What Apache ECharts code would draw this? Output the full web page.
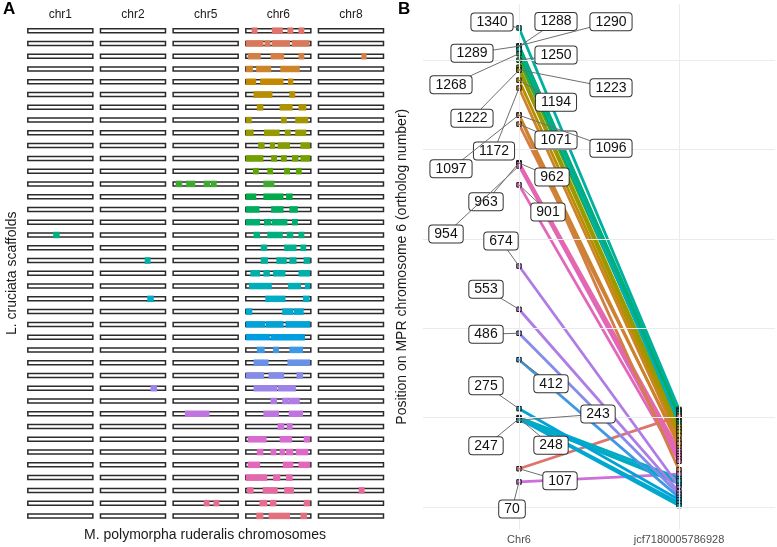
<!DOCTYPE html>
<html>
<head>
<meta charset="utf-8">
<script src="https://cdn.jsdelivr.net/npm/echarts@6/dist/echarts.min.js"></script>
<style>html,body{margin:0;padding:0;background:#fff}#c{width:777px;height:547px}</style>
</head>
<body>
<div id="c"></div>
<script>
// ---------- Panel A data ----------
const colNames = ['chr1', 'chr2', 'chr5', 'chr6', 'chr8'];
const rowIds = [1,2,3,4,5,6,7,8,9,10,11,12,13,14,15,16,17,18,19,20,21,22,23,24,25,26,27,28,29,30,31,32,33,34,35,36,37,38,39];
// [column index, scaffold row, start fraction, end fraction]
const blocks = [
  [3,1,0.09,0.18],[3,1,0.40,0.57],[3,1,0.64,0.73],[3,1,0.81,0.90],
  [3,2,0,0.27],[3,2,0.29,0.38],[3,2,0.40,0.68],[3,2,0.71,0.98],
  [3,3,0.03,0.23],[3,3,0.38,0.59],[3,3,0.81,0.90],[4,3,0.66,0.74],
  [3,4,0,0.11],[3,4,0.16,0.39],[3,4,0.53,0.83],
  [3,5,0,0.16],[3,5,0.22,0.58],[3,5,0.65,0.73],
  [3,6,0.12,0.41],[3,6,0.67,0.76],
  [3,7,0.17,0.27],[3,7,0.52,0.72],[3,7,0.81,0.93],
  [3,8,0,0.09],[3,8,0.54,0.63],[3,8,0.76,0.96],
  [3,9,0,0.12],[3,9,0.28,0.52],[3,9,0.60,0.69],[3,9,0.76,0.93],
  [3,10,0.19,0.29],[3,10,0.37,0.45],[3,10,0.49,0.68],[3,10,0.84,0.99],
  [3,11,0,0.27],[3,11,0.39,0.48],[3,11,0.54,0.63],[3,11,0.71,0.81],[3,11,0.84,0.99],
  [3,12,0.11,0.20],[3,12,0.33,0.42],[3,12,0.59,0.68],[3,12,0.77,0.86],
  [3,13,0.27,0.44],[2,13,0.04,0.14],[2,13,0.20,0.34],[2,13,0.47,0.57],[2,13,0.58,0.67],
  [3,14,0,0.16],[3,14,0.27,0.58],[3,14,0.62,0.72],
  [3,15,0,0.21],[3,15,0.39,0.58],[3,15,0.67,0.80],
  [3,16,0,0.22],[3,16,0.28,0.39],[3,16,0.40,0.64],[3,16,0.71,0.80],
  [3,17,0.12,0.22],[3,17,0.33,0.57],[3,17,0.63,0.73],[3,17,0.81,0.90],[0,17,0.39,0.49],
  [3,18,0.23,0.33],[3,18,0.59,0.78],[3,18,0.84,0.93],
  [3,19,0.23,0.34],[3,19,0.47,0.63],[3,19,0.67,0.78],[3,19,0.89,0.99],[1,19,0.68,0.77],
  [3,20,0.07,0.22],[3,20,0.27,0.37],[3,20,0.42,0.61],[3,20,0.81,0.99],
  [3,21,0.05,0.40],[3,21,0.65,0.85],[3,21,0.91,0.99],
  [3,22,0.30,0.61],[3,22,0.88,0.98],[1,22,0.72,0.82],
  [3,23,0,0.10],[3,23,0.56,0.73],[3,23,0.74,0.89],
  [3,24,0,0.30],[3,24,0.31,0.58],[3,24,0.61,0.99],
  [3,25,0,0.37],[3,25,0.38,0.91],
  [3,26,0.17,0.29],[3,26,0.42,0.51],[3,26,0.67,0.88],
  [3,27,0.12,0.35],[3,27,0.64,0.99],
  [3,28,0,0.28],[3,28,0.35,0.59],[3,28,0.78,0.88],
  [3,29,0.12,0.48],[3,29,0.49,0.77],[1,29,0.77,0.87],
  [3,30,0.38,0.48],[3,30,0.56,0.66],[3,30,0.66,0.83],
  [3,31,0.27,0.51],[3,31,0.66,0.88],[2,31,0.18,0.56],
  [3,32,0.49,0.59],[3,32,0.63,0.72],
  [3,33,0.03,0.32],[3,33,0.52,0.71],[3,33,0.89,0.99],
  [3,34,0.17,0.27],[3,34,0.38,0.47],[3,34,0.52,0.60],[3,34,0.62,0.73],[3,34,0.77,0.96],
  [3,35,0.03,0.22],[3,35,0.57,0.73],[3,35,0.81,0.99],
  [3,36,0,0.33],[3,36,0.42,0.53],[3,36,0.62,0.72],
  [3,37,0.02,0.12],[3,37,0.26,0.49],[3,37,0.59,0.74],[4,37,0.62,0.71],
  [3,38,0.21,0.33],[3,38,0.37,0.47],[3,38,0.89,0.99],[2,38,0.47,0.56],[2,38,0.62,0.71],
  [3,39,0.16,0.27],[3,39,0.35,0.68],[3,39,0.84,0.94]
];

// ---------- Panel B data ----------
const xCatsB = ['Chr6', 'jcf7180005786928'];
const chr6Pos = [1340,1290,1289,1288,1280,1268,1250,1230,1223,1222,1194,1172,1097,1096,1071,963,962,960,954,901,674,553,486,412,275,250,248,247,245,243,107,70];
const scafPos = [273,269,265,261,236,244,251,226,218,210,200,186,170,104,178,158,150,143,135,128,58,43,35,27,20,81,12,4,66,73,254,92];
const lineHueIdx = [19,17,16,15,21,14,13,9,8,7,6,4,4,3,3,36,37,35,34,35,30,30,28,26,24,22,23,23,22,22,1,32];
const labelledPos = [1340,1288,1290,1289,1250,1268,1223,1194,1222,1071,1096,1172,1097,962,963,901,954,674,553,486,412,275,243,247,248,107,70];
const yGridB = [0,250,500,750,1000,1250];
// label placement (pixel offset from its point)
const labelOffsets = [[-27,-6],[37,-25],[92,-24],[-47,7],[37,-5],[-68,31],[92,18],[37,22],[-47,48],[37,16],[92,33],[-25,63],[-68,54],[33,14],[-33,39],[29,27],[-73,68],[-18,-25],[-33,-20],[-33,1],[32,24],[-33,-23],[79,-6],[-33,27],[32,27],[41,12],[-7,27]];

// ---------- colours (ggplot-style hue palette, slightly muted) ----------
function hcl2hex(h, c, l) {
  const hr = h * Math.PI / 180;
  const U = c * Math.cos(hr), V = c * Math.sin(hr);
  const Xn = 95.047, Yn = 100.0, Zn = 108.883;
  const t = Xn + 15 * Yn + 3 * Zn;
  const un = 4 * Xn / t, vn = 9 * Yn / t;
  const Y = l > 8 ? Yn * Math.pow((l + 16) / 116, 3) : Yn * l / 903.3;
  const u = U / (13 * l) + un, v = V / (13 * l) + vn;
  const X = 9 * Y * u / (4 * v);
  const Z = -X / 3 - 5 * Y + 3 * Y / v;
  const lin = [
    (3.240479 * X - 1.537150 * Y - 0.498535 * Z) / 100,
    (-0.969256 * X + 1.875992 * Y + 0.041556 * Z) / 100,
    (0.055648 * X - 0.204043 * Y + 1.057311 * Z) / 100];
  const g = x => { x = x <= 0.0031308 ? 12.92 * x : 1.055 * Math.pow(x, 1 / 2.4) - 0.055; return Math.round(Math.max(0, Math.min(1, x)) * 255); };
  return '#' + lin.map(g).map(n => n.toString(16).padStart(2, '0')).join('');
}
const nHue = rowIds.length;
function paletteColor(k) { return hcl2hex(15 + 360 * (k - 1) / nHue, 80, 61); }

const FONT = "'Liberation Sans', Arial, Helvetica, sans-serif";

// ---------- build series data ----------
const outlineData = [];
rowIds.forEach(r => colNames.forEach((c, ci) => outlineData.push([ci, r])));

const lineData = chr6Pos.map((lv, i) => ({
  coords: [[1, lv], [2, scafPos[i]]],
  lineStyle: { color: paletteColor(lineHueIdx[i]) }
})).reverse();

const leftPts = chr6Pos.map((lv, i) => ({ value: [1, lv], itemStyle: { color: paletteColor(lineHueIdx[i]) } }));
const rightPts = scafPos.map((rv, i) => ({ value: [2, rv], itemStyle: { color: paletteColor(lineHueIdx[i]) } }));

const chart = echarts.init(document.getElementById('c'), null, { renderer: 'canvas' });
chart.setOption({
  animation: false,
  textStyle: { fontFamily: FONT },
  grid: [
    { left: 24, top: 24.3, width: 363.3, height: 498 },
    { left: 423, top: 4, width: 352, height: 525.5 }
  ],
  xAxis: [
    { gridIndex: 0, type: 'category', position: 'top', data: colNames,
      axisLine: { show: false }, axisTick: { show: false }, splitLine: { show: false },
      axisLabel: { fontSize: 12, color: '#1a1a1a', margin: 4, fontFamily: FONT } },
    { gridIndex: 1, type: 'value', min: 0.4, max: 2.6,
      axisLine: { show: false }, axisTick: { show: false }, splitLine: { show: false },
      axisLabel: { customValues: [1, 2], formatter: v => xCatsB[Math.round(v) - 1] || '', fontSize: 11, color: '#4d4d4d', margin: 5, fontFamily: FONT } }
  ],
  yAxis: [
    { gridIndex: 0, type: 'value', inverse: true, min: 0.5, max: 39.5,
      axisLine: { show: false }, axisTick: { show: false }, axisLabel: { show: false }, splitLine: { show: false },
      name: 'L. cruciata scaffolds', nameLocation: 'middle', nameGap: 5,
      nameTextStyle: { fontSize: 14, color: '#1a1a1a', fontFamily: FONT } },
    { gridIndex: 1, type: 'value', min: -63, max: 1407,
      axisLine: { show: false }, axisTick: { show: false }, axisLabel: { show: false }, splitLine: { show: false },
      name: 'Position on MPR chromosome 6 (ortholog number)', nameLocation: 'middle', nameGap: 14,
      nameTextStyle: { fontSize: 14, color: '#1a1a1a', fontFamily: FONT } }
  ],
  graphic: [
    { type: 'text', left: 3, top: 1, style: { text: 'A', font: 'bold 17px ' + FONT, fill: '#000' } },
    { type: 'text', left: 398, top: 1, style: { text: 'B', font: 'bold 17px ' + FONT, fill: '#000' } },
    { type: 'text', x: 205, y: 535, style: { text: 'M. polymorpha ruderalis chromosomes', font: '14px ' + FONT, fill: '#1a1a1a', align: 'center', verticalAlign: 'middle' } }
  ],
  series: [
    // Panel A outlines
    { type: 'custom', xAxisIndex: 0, yAxisIndex: 0, data: outlineData, z: 2, silent: true,
      renderItem: (params, api) => {
        const c = api.coord([api.value(0), api.value(1)]);
        const bw = api.size([1, 0])[0] * 0.895;
        const h = 4;
        return { type: 'rect', shape: { x: c[0] - bw / 2, y: c[1] - h / 2, width: bw, height: h },
          style: { fill: '#fff', stroke: '#2b2b2b', lineWidth: 1.5 } };
      } },
    // Panel A ortholog blocks
    { type: 'custom', xAxisIndex: 0, yAxisIndex: 0, data: blocks, z: 3, silent: true,
      renderItem: (params, api) => {
        const c = api.coord([api.value(0), api.value(1)]);
        const bw = api.size([1, 0])[0] * 0.895;
        const x0 = c[0] - bw / 2 + api.value(2) * bw;
        const x1 = c[0] - bw / 2 + api.value(3) * bw;
        const h = 6.5;
        return { type: 'rect', shape: { x: x0, y: c[1] - h / 2, width: Math.max(1, x1 - x0), height: h },
          style: { fill: paletteColor(api.value(1)) } };
      } },
    // Panel B gridlines
    { type: 'scatter', xAxisIndex: 1, yAxisIndex: 1, data: [[1, 0]], symbolSize: 0, z: 1, silent: true,
      markLine: { silent: true, symbol: ['none', 'none'], label: { show: false },
        lineStyle: { color: '#ebebeb', width: 1, type: 'solid' },
        data: yGridB.map(v => ({ yAxis: v })).concat([{ xAxis: 1 }, { xAxis: 2 }]) } },
    // Panel B connecting lines
    { type: 'lines', coordinateSystem: 'cartesian2d', xAxisIndex: 1, yAxisIndex: 1, z: 3, silent: true,
      lineStyle: { width: 2.8, opacity: 1 }, data: lineData },
    // Panel B points
    { type: 'scatter', xAxisIndex: 1, yAxisIndex: 1, z: 4, symbol: 'rect', symbolSize: 4.5, silent: true,
      itemStyle: { borderColor: '#1a1a1a', borderWidth: 1, opacity: 1 }, data: leftPts.concat(rightPts) },
    // Panel B labels
    { type: 'custom', xAxisIndex: 1, yAxisIndex: 1, z: 6, silent: true,
      data: labelledPos.map(v => [1, v]),
      renderItem: (params, api) => {
        const v = api.value(1);
        const p = api.coord([1, v]);
        const off = labelOffsets[params.dataIndex];
        const cx = p[0] + off[0], cy = p[1] + off[1];
        return { type: 'group', children: [
          { type: 'line', shape: { x1: p[0], y1: p[1], x2: cx, y2: cy }, style: { stroke: '#6e6e6e', lineWidth: 1 } },
          { type: 'text', x: cx, y: cy, style: { text: String(v), fontSize: 14, fontFamily: FONT, fill: '#111',
            align: 'center', verticalAlign: 'middle', backgroundColor: '#fff', borderColor: '#333', borderWidth: 1,
            borderRadius: 3, padding: [2, 5, 1, 5] } }
        ] };
      } }
  ]
});
</script>
</body>
</html>
